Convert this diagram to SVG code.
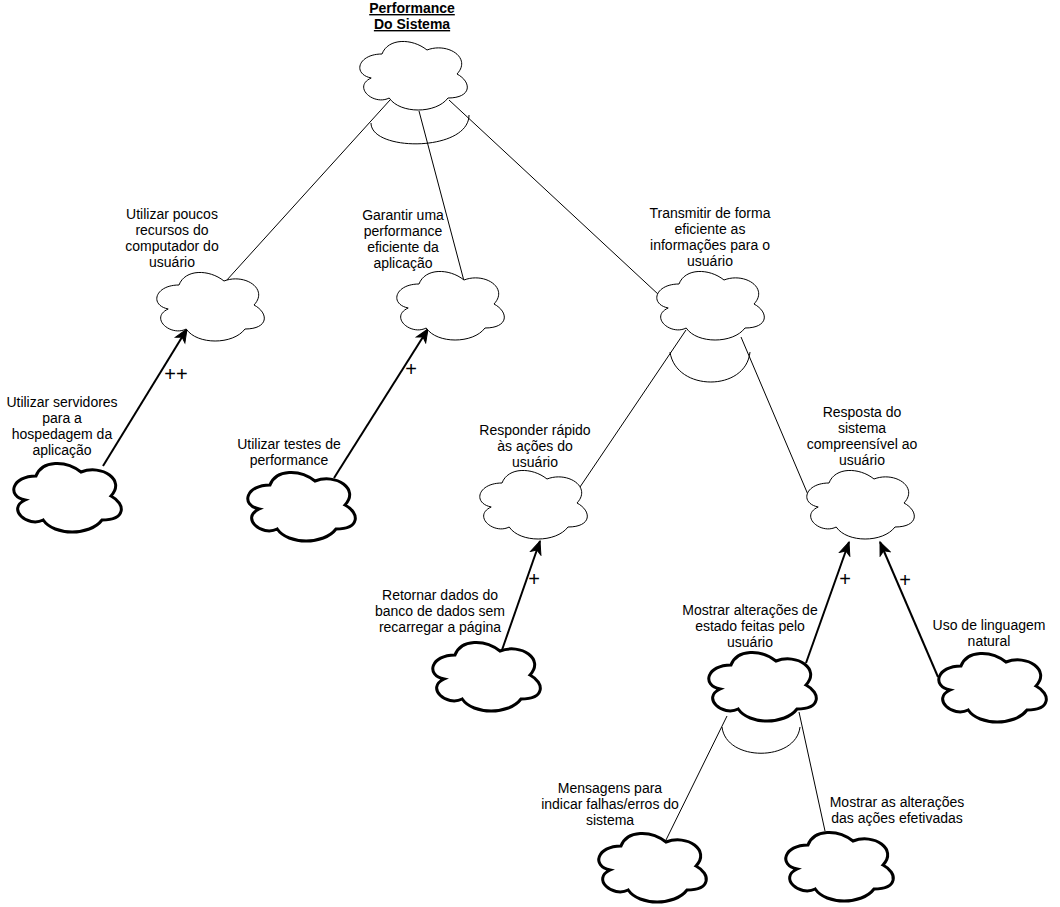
<svg xmlns="http://www.w3.org/2000/svg" width="1060" height="907" viewBox="0 0 1060 907">
<style>
text{font-family:"Liberation Sans",Arial,sans-serif;font-size:14px;fill:#000;text-anchor:middle}
.thin{fill:#fff;stroke:#000;stroke-width:1}
.thick{fill:#fff;stroke:#000;stroke-width:3}
.dec{fill:none;stroke:#000;stroke-width:1}
.contrib{fill:none;stroke:#000;stroke-width:2;marker-end:url(#arr)}
.sign{font-size:20px}
.title{font-weight:bold;text-decoration:underline}
</style>
<defs>
<path id="cloud" d="M30,20 C6,20 0,40 19.2,44 C0,52.8 21.6,72 37.2,64 C48,80 84,80 96,64 C120,64 120,48 105,40 C120,24 96,8 75,16 C60,4 36,4 30,20 Z"/>
<marker id="arr" markerUnits="userSpaceOnUse" markerWidth="20" markerHeight="20" refX="14" refY="6" orient="auto" viewBox="0 0 20 12">
<path d="M14,6 L1,0.5 L4.5,6 L1,11.5 Z" fill="#000" stroke="#000" stroke-width="1"/>
</marker>
</defs>
<rect width="1060" height="907" fill="#fff"/>
<g id="connectors">
<line class="dec" x1="390" y1="100" x2="226" y2="281"/>
<line class="dec" x1="419" y1="111" x2="464" y2="281"/>
<line class="dec" x1="449" y1="100" x2="659" y2="295"/>
<path class="dec" d="M371,123 C371,152 469,152 469,115"/>
<line class="dec" x1="686" y1="330" x2="580" y2="487"/>
<line class="dec" x1="741" y1="337" x2="809" y2="497"/>
<path class="dec" d="M670,352 C676,392 746,392 750,352"/>
<line class="dec" x1="727" y1="716" x2="666" y2="840"/>
<line class="dec" x1="799" y1="712" x2="825" y2="831"/>
<path class="dec" d="M722,727 C726,762 796,762 800,727"/>
<line class="contrib" x1="103" y1="466" x2="187" y2="329"/>
<line class="contrib" x1="334" y1="478" x2="428" y2="329"/>
<line class="contrib" x1="502" y1="650" x2="540" y2="541"/>
<line class="contrib" x1="806" y1="663" x2="849" y2="542"/>
<line class="contrib" x1="938" y1="677" x2="880" y2="542"/>
<text class="sign" x="176" y="381">++</text>
<text class="sign" x="411" y="376">+</text>
<text class="sign" x="534" y="586">+</text>
<text class="sign" x="845" y="586">+</text>
<text class="sign" x="905" y="587">+</text>
</g>
<g id="root">
<use href="#cloud" class="thin" transform="translate(352,34)"/>
<text class="title" x="412" y="13">Performance</text>
<text class="title" x="412" y="29">Do Sistema</text>
</g>
<g id="poucos-recursos">
<use href="#cloud" class="thin" transform="translate(149,265)"/>
<text x="172" y="219">Utilizar poucos</text>
<text x="172" y="235">recursos do</text>
<text x="172" y="251">computador do</text>
<text x="172" y="267">usuário</text>
</g>
<g id="garantir-performance">
<use href="#cloud" class="thin" transform="translate(389,264)"/>
<text x="403" y="220">Garantir uma</text>
<text x="403" y="236">performance</text>
<text x="403" y="252">eficiente da</text>
<text x="403" y="268">aplicação</text>
</g>
<g id="transmitir">
<use href="#cloud" class="thin" transform="translate(649,264)"/>
<text x="710" y="218">Transmitir de forma</text>
<text x="710" y="234">eficiente as</text>
<text x="710" y="250">informações para o</text>
<text x="710" y="266">usuário</text>
</g>
<g id="servidores">
<use href="#cloud" class="thick" transform="translate(6,456)"/>
<text x="62" y="407">Utilizar servidores</text>
<text x="62" y="423">para a</text>
<text x="62" y="439">hospedagem da</text>
<text x="62" y="455">aplicação</text>
</g>
<g id="testes">
<use href="#cloud" class="thick" transform="translate(240,465)"/>
<text x="289" y="449">Utilizar testes de</text>
<text x="289" y="465">performance</text>
</g>
<g id="responder">
<use href="#cloud" class="thin" transform="translate(472,463)"/>
<text x="535" y="435">Responder rápido</text>
<text x="535" y="451">às ações do</text>
<text x="535" y="467">usuário</text>
</g>
<g id="resposta">
<use href="#cloud" class="thin" transform="translate(799,463)"/>
<text x="862" y="417">Resposta do</text>
<text x="862" y="433">sistema</text>
<text x="862" y="449">compreensível ao</text>
<text x="862" y="465">usuário</text>
</g>
<g id="retornar">
<use href="#cloud" class="thick" transform="translate(425,635)"/>
<text x="440" y="600">Retornar dados do</text>
<text x="440" y="616">banco de dados sem</text>
<text x="440" y="632">recarregar a página</text>
</g>
<g id="mostrar-alteracoes">
<use href="#cloud" class="thick" transform="translate(701,645)"/>
<text x="750" y="615">Mostrar alterações de</text>
<text x="750" y="631">estado feitas pelo</text>
<text x="750" y="647">usuário</text>
</g>
<g id="linguagem">
<use href="#cloud" class="thick" transform="translate(931,646)"/>
<text x="989" y="630">Uso de linguagem</text>
<text x="989" y="646">natural</text>
</g>
<g id="mensagens">
<use href="#cloud" class="thick" transform="translate(591,826)"/>
<text x="610" y="793">Mensagens para</text>
<text x="610" y="809">indicar falhas/erros do</text>
<text x="610" y="825">sistema</text>
</g>
<g id="mostrar-efetivadas">
<use href="#cloud" class="thick" transform="translate(778,825)"/>
<text x="897" y="807">Mostrar as alterações</text>
<text x="897" y="823">das ações efetivadas</text>
</g>
</svg>
